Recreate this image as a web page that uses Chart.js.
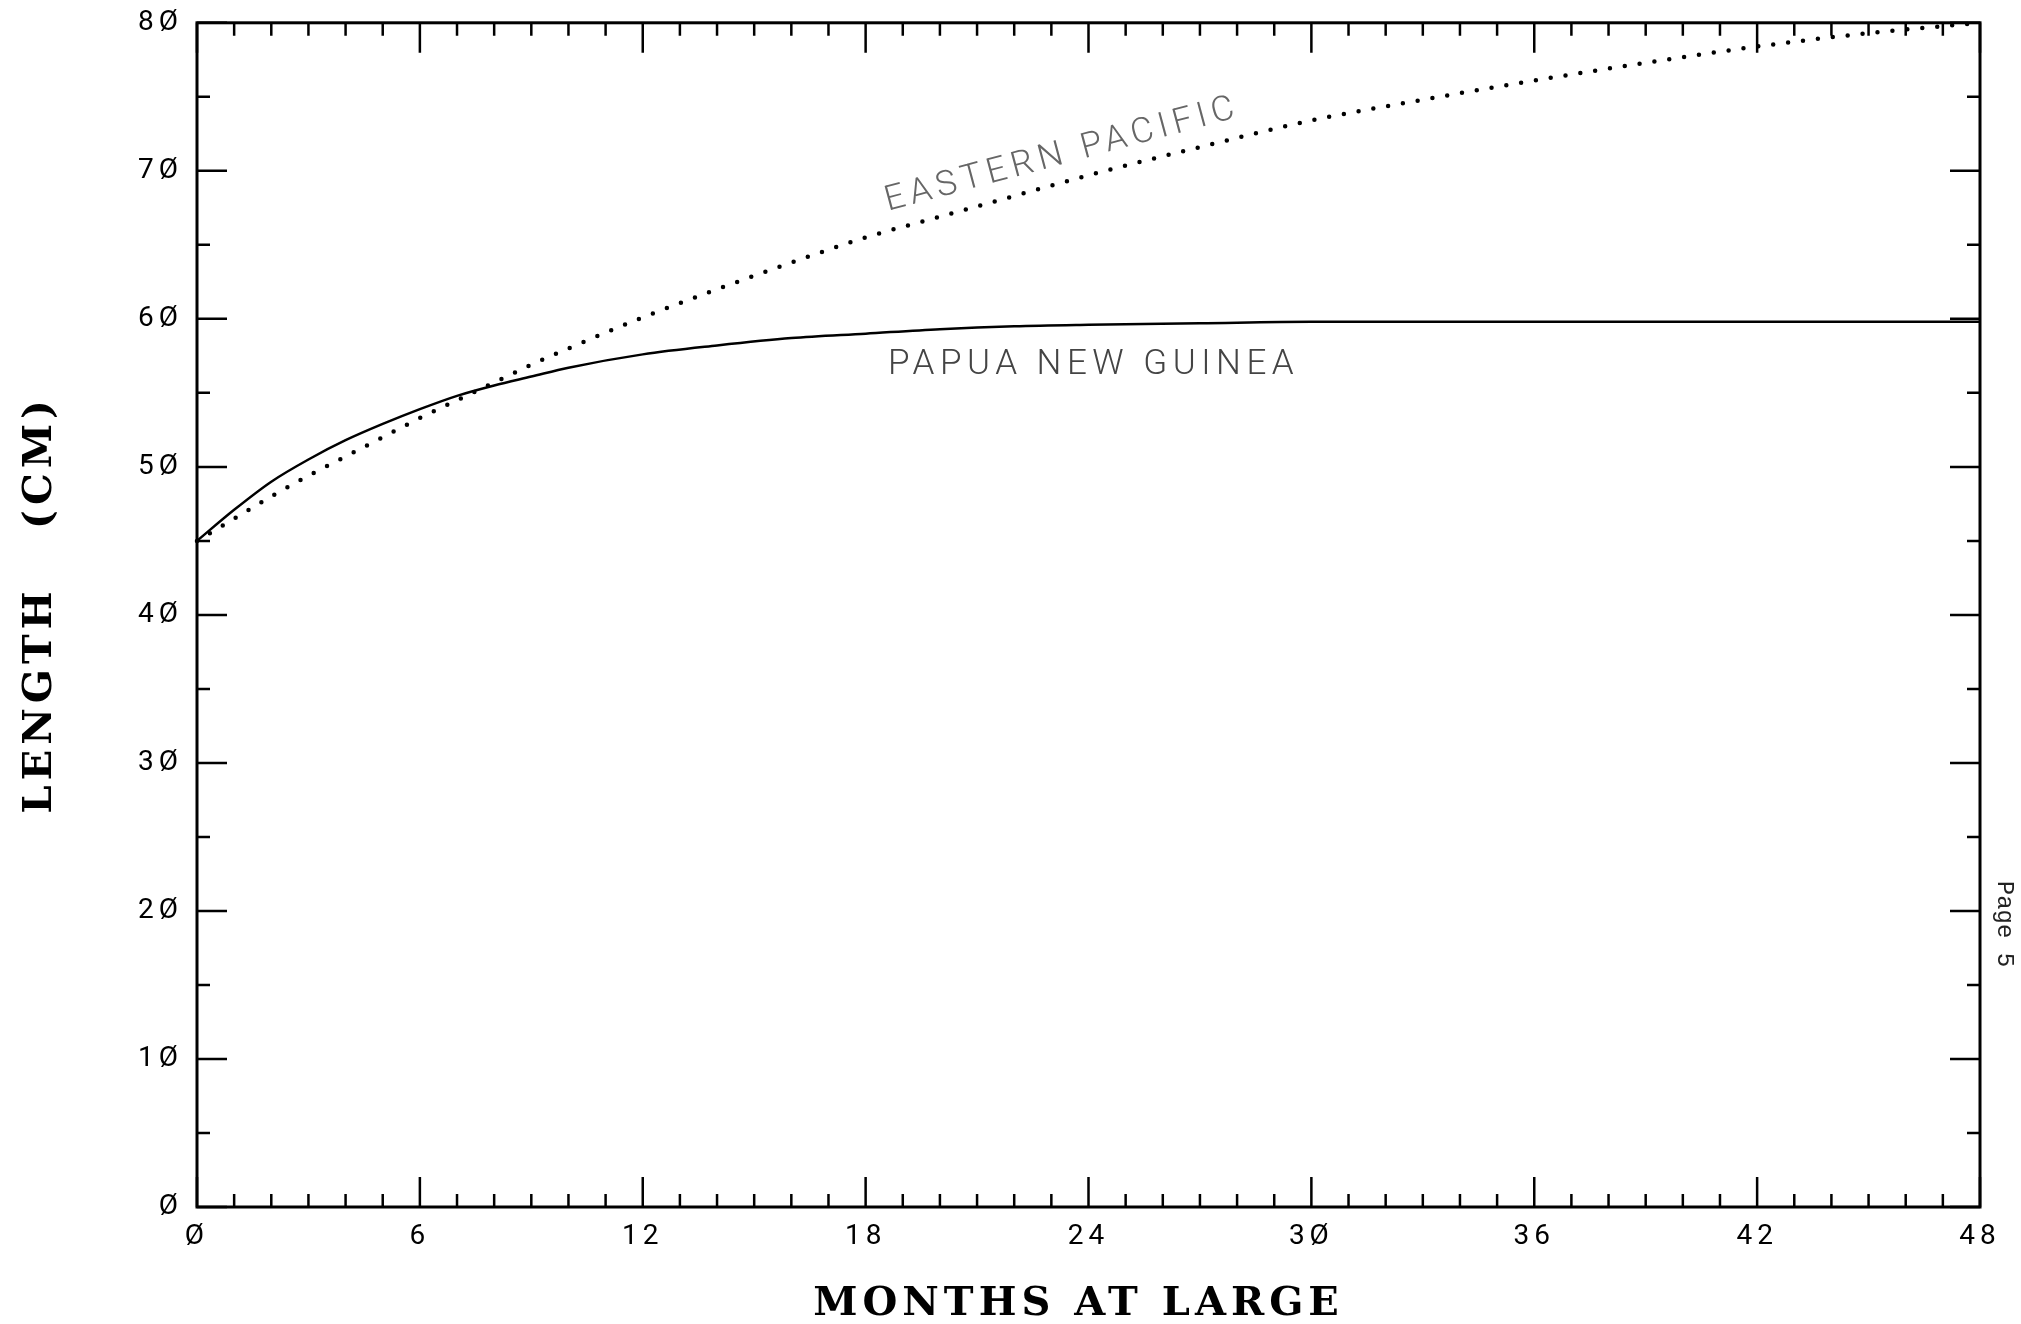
<!DOCTYPE html>
<html>
<head>
<meta charset="utf-8">
<script src="https://cdn.jsdelivr.net/npm/chart.js@4.4.1/dist/chart.umd.min.js"></script>
<style>
    html, body { margin: 0; padding: 0; background: #fff; }
    #wrap { width: 2021px; height: 1324px; }
</style>
</head>
<body>
<div id="wrap"><canvas id="growthChart" width="2021" height="1324"></canvas></div>
<script>
// --- Data ---
const months = [0, 1, 2, 3, 4, 5, 6, 7, 8, 9, 10, 12, 14, 16, 18, 20, 22, 24, 27, 30, 33, 36, 39, 42, 45, 48];
const papuaNewGuinea = [45.0, 47.1, 49.0, 50.5, 51.8, 52.9, 53.9, 54.8, 55.5, 56.1, 56.7, 57.6, 58.2, 58.7, 59.0, 59.3, 59.5, 59.6, 59.7, 59.8, 59.8, 59.8, 59.8, 59.8, 59.8, 59.8];
const easternPacific = [45.0, 46.5, 48.0, 49.4, 50.7, 52.0, 53.3, 54.5, 55.7, 56.9, 58.0, 60.1, 62.0, 63.8, 65.5, 66.9, 68.3, 69.7, 71.6, 73.4, 74.8, 76.1, 77.3, 78.4, 79.3, 80.0];

// axis ranges and tick steps
const X_MIN = 0, X_MAX = 48, X_LABEL_STEP = 6, X_MINOR_STEP = 1;
const Y_MIN = 0, Y_MAX = 80, Y_LABEL_STEP = 10, Y_MINOR_STEP = 5;

const X_TITLE = 'MONTHS AT LARGE';
const Y_TITLE_WORD = 'LENGTH';
const Y_TITLE_UNIT = '(CM)';
const PNG_LABEL = 'PAPUA NEW GUINEA';
const EP_LABEL = 'EASTERN PACIFIC';
const PAGE_NOTE = 'Page 5';

// plotter style zero
const slashZero = (v) => String(v).replace(/0/g, '\u00D8');

const toPoints = (ys) => months.map((m, i) => ({ x: m, y: ys[i] }));

// --- Inward tick marks + frame ---
const frameTicks = {
    id: 'frameTicks',
    afterDatasetsDraw(chart) {
        const { ctx, chartArea: a, scales: { x, y } } = chart;
        const MAJOR = 30, MINOR = 13;
        ctx.save();
        ctx.strokeStyle = '#000';
        ctx.lineWidth = 2.5;
        ctx.beginPath();
        for (let m = X_MIN; m <= X_MAX; m += X_MINOR_STEP) {
            const px = x.getPixelForValue(m);
            const len = m % X_LABEL_STEP === 0 ? MAJOR : MINOR;
            ctx.moveTo(px, a.bottom); ctx.lineTo(px, a.bottom - len);
            ctx.moveTo(px, a.top); ctx.lineTo(px, a.top + len);
        }
        for (let v = Y_MIN; v <= Y_MAX; v += Y_MINOR_STEP) {
            const py = y.getPixelForValue(v);
            const len = v % Y_LABEL_STEP === 0 ? MAJOR : MINOR;
            ctx.moveTo(a.left, py); ctx.lineTo(a.left + len, py);
            ctx.moveTo(a.right, py); ctx.lineTo(a.right - len, py);
        }
        ctx.stroke();
        ctx.lineWidth = 3;
        ctx.strokeRect(a.left, a.top, a.width, a.height);
        ctx.restore();
    }
};

// --- Titles, curve labels, page note ---
const annotations = {
    id: 'annotations',
    beforeDraw(chart) {
        // wide plotter spacing for the tick labels
        chart.ctx.letterSpacing = '5px';
    },
    afterDraw(chart) {
        const { ctx, chartArea: a, scales: { x, y } } = chart;
        ctx.save();
        ctx.fillStyle = '#000';
        ctx.textBaseline = 'middle';
        ctx.textAlign = 'center';

        // axis titles
        ctx.font = 'bold 40px "DejaVu Serif"';
        ctx.letterSpacing = '5px';
        ctx.fillText(X_TITLE, (a.left + a.right) / 2 - 10, 1305);

        ctx.save();
        ctx.translate(41, 0);
        ctx.rotate(-Math.PI / 2);
        ctx.fillText(Y_TITLE_WORD, -700, 0);
        ctx.fillText(Y_TITLE_UNIT, -462, 0);
        ctx.restore();

        // curve labels
        ctx.font = '300 35px Roboto';
        ctx.letterSpacing = '5.5px';
        ctx.textAlign = 'left';
        ctx.textBaseline = 'alphabetic';
        ctx.fillStyle = '#444';
        ctx.fillText(PNG_LABEL, x.getPixelForValue(18.6), y.getPixelForValue(56.3));

        ctx.save();
        ctx.translate(x.getPixelForValue(18.6), y.getPixelForValue(67.3));
        ctx.rotate(-15 * Math.PI / 180);
        ctx.fillStyle = '#666';
        ctx.fillText(EP_LABEL, 0, 0);
        ctx.restore();

        // page note on the right margin
        ctx.save();
        ctx.translate(2004, 924);
        ctx.rotate(Math.PI / 2);
        ctx.font = '24px "Liberation Mono"';
        ctx.letterSpacing = '0px';
        ctx.textAlign = 'center';
        ctx.textBaseline = 'middle';
        ctx.fillStyle = '#222';
        ctx.fillText(PAGE_NOTE, 0, 0);
        ctx.restore();

        ctx.restore();
    }
};

const ctx = document.getElementById('growthChart').getContext('2d');
new Chart(ctx, {
    type: 'line',
    data: {
        datasets: [
            {
                label: PNG_LABEL,
                data: toPoints(papuaNewGuinea),
                borderColor: '#000',
                borderWidth: 2.5,
                pointRadius: 0,
                cubicInterpolationMode: 'monotone'
            },
            {
                label: EP_LABEL,
                data: toPoints(easternPacific),
                borderColor: '#000',
                borderWidth: 4.5,
                borderDash: [0, 15],
                borderCapStyle: 'round',
                pointRadius: 0,
                cubicInterpolationMode: 'monotone',
                clip: 6
            }
        ]
    },
    options: {
        responsive: false,
        animation: false,
        devicePixelRatio: 1,
        layout: { padding: { top: 5, right: 41, left: 0, bottom: 0 } },
        plugins: {
            legend: { display: false },
            tooltip: { enabled: false }
        },
        scales: {
            x: {
                type: 'linear',
                min: X_MIN,
                max: X_MAX,
                grid: { display: false },
                border: { display: false },
                ticks: {
                    stepSize: X_LABEL_STEP,
                    color: '#000',
                    padding: 5,
                    maxRotation: 0,
                    font: { family: 'Roboto', size: 28, weight: '400' },
                    callback: slashZero
                },
                afterFit(scale) { scale.height = 117; }
            },
            y: {
                min: Y_MIN,
                max: Y_MAX,
                grid: { display: false },
                border: { display: false },
                ticks: {
                    stepSize: Y_LABEL_STEP,
                    color: '#000',
                    padding: 6,
                    font: { family: 'Roboto', size: 28, weight: '400' },
                    callback: slashZero
                },
                afterFit(scale) { scale.width = 197; }
            }
        }
    },
    plugins: [frameTicks, annotations]
});
</script>
</body>
</html>
